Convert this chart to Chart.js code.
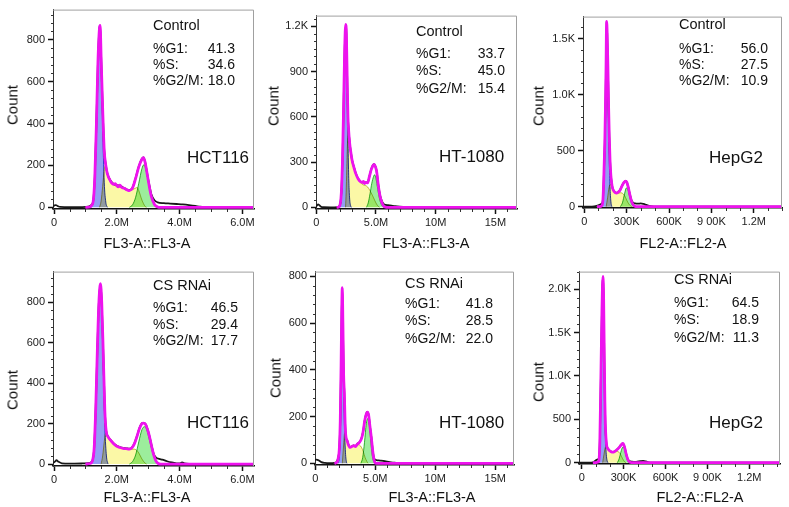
<!DOCTYPE html>
<html>
<head>
<meta charset="utf-8">
<script src="https://cdn.jsdelivr.net/npm/chart.js@4.4.1/dist/chart.umd.min.js"></script>
<style>
  html, body { margin: 0; padding: 0; background: #fff; }
  #page { position: relative; width: 789px; height: 507px; overflow: hidden; background: #fff; }
  #page canvas { position: absolute; }
  .txt { position: absolute; white-space: nowrap; color: #111; line-height: 1; font-weight: normal;
         font-family: "Liberation Sans", Arial, Helvetica, sans-serif; }
</style>
</head>
<body>
<div id="page"></div>
<script>
// ── Cell-cycle histograms (ModFit-style), 2 rows x 3 cell lines ──
// Each curve is a list of [x, count] pairs.
// FL3 panels: x in millions; FL2 panels: x in thousands.

// HCT116, Control
const hctCtrlRaw = [[-0.03,3],[0.02,10],[0.06,11],[0.12,6],[0.2,2],[0.5,1],[0.9,1],[1.1,3],[1.18,10],[1.25,32],[1.3,148],[1.35,398],[1.4,697],[1.45,859],[1.47,868],[1.5,722],[1.55,472],[1.6,272],[1.65,203],[1.7,162],[1.8,128],[1.9,112],[2.0,106],[2.1,104],[2.2,95],[2.3,86],[2.4,82],[2.5,94],[2.6,140],[2.7,195],[2.8,232],[2.85,238],[2.9,218],[2.95,178],[3.0,135],[3.05,96],[3.1,62],[3.2,34],[3.3,24],[3.5,20],[3.7,18],[3.9,16],[4.1,14],[4.3,11],[4.5,7],[4.65,3],[4.8,1],[5.2,0],[6.37,0]];
const hctCtrlFit = [[1.0,0],[1.15,2],[1.2,10],[1.25,30],[1.3,145],[1.35,395],[1.4,695],[1.45,858],[1.47,869],[1.5,720],[1.55,470],[1.6,270],[1.65,200],[1.7,160],[1.8,125],[1.9,110],[1.95,113],[2.0,104],[2.05,98],[2.1,106],[2.15,96],[2.2,93],[2.25,91],[2.3,85],[2.35,82],[2.4,80],[2.45,84],[2.5,92],[2.6,138],[2.7,193],[2.8,230],[2.85,237],[2.9,216],[2.95,175],[3.0,130],[3.05,88],[3.1,52],[3.2,14],[3.3,2],[3.4,0],[6.37,0]];
const hctCtrlG1 = [[1.18,0],[1.25,25],[1.3,138],[1.35,375],[1.4,640],[1.45,750],[1.47,755],[1.5,690],[1.55,380],[1.6,120],[1.65,25],[1.7,0]];
const hctCtrlS = [[1.45,0],[1.5,30],[1.55,100],[1.6,180],[1.63,200],[1.66,190],[1.7,155],[1.8,122],[1.9,108],[2.0,100],[2.2,92],[2.4,84],[2.5,85],[2.6,92],[2.65,95],[2.7,80],[2.8,35],[2.9,5],[2.95,0]];
const hctCtrlG2 = [[2.4,0],[2.5,12],[2.6,48],[2.7,115],[2.8,185],[2.86,203],[2.9,195],[2.95,165],[3.0,125],[3.05,82],[3.1,48],[3.2,12],[3.3,0]];

// HT-1080, Control
const htCtrlRaw = [[-0.05,5],[0.05,12],[0.15,20],[0.25,15],[0.4,4],[0.6,1],[1.2,0],[1.8,2],[2.0,22],[2.1,102],[2.2,332],[2.3,722],[2.38,1048],[2.46,1205],[2.52,1148],[2.6,792],[2.65,602],[2.7,524],[2.8,424],[2.9,362],[3.0,312],[3.15,268],[3.3,228],[3.5,192],[3.7,172],[3.85,166],[4.0,166],[4.15,166],[4.3,164],[4.45,206],[4.6,252],[4.75,280],[4.85,286],[4.95,272],[5.05,242],[5.2,145],[5.35,78],[5.5,40],[5.65,22],[5.8,16],[6.0,14],[6.3,11],[6.6,8],[7.0,5],[7.5,2],[8.0,0],[16.8,0]];
const htCtrlFit = [[1.7,0],[1.9,4],[2.0,20],[2.1,100],[2.2,330],[2.3,720],[2.38,1050],[2.46,1211],[2.52,1150],[2.6,790],[2.65,600],[2.7,520],[2.8,420],[2.9,360],[3.0,310],[3.15,265],[3.3,225],[3.5,190],[3.7,170],[3.85,165],[3.95,172],[4.05,158],[4.15,165],[4.3,162],[4.45,205],[4.6,250],[4.75,278],[4.85,285],[4.95,270],[5.05,240],[5.2,140],[5.35,70],[5.5,30],[5.65,8],[5.8,1],[6.0,0],[16.8,0]];
const htCtrlG1 = [[1.95,0],[2.05,30],[2.15,150],[2.25,450],[2.35,850],[2.45,1150],[2.5,1120],[2.55,950],[2.6,720],[2.65,480],[2.7,250],[2.75,120],[2.8,50],[2.9,5],[2.95,0]];
const htCtrlS = [[2.45,0],[2.5,100],[2.55,250],[2.6,400],[2.68,510],[2.75,460],[2.8,420],[2.9,360],[3.0,310],[3.15,265],[3.3,225],[3.5,190],[3.7,165],[3.9,150],[4.1,145],[4.3,135],[4.5,110],[4.7,80],[4.9,45],[5.1,15],[5.3,0]];
const htCtrlG2 = [[4.2,0],[4.35,30],[4.5,90],[4.65,160],[4.8,205],[4.88,216],[5.0,190],[5.15,120],[5.3,55],[5.45,18],[5.6,3],[5.7,0]];

// HepG2, Control
const hepCtrlRaw = [[-9,0],[40,0],[70,3],[100,12],[115,22],[125,30],[132,65],[138,252],[145,562],[150,902],[154,1248],[158,1650],[162,1548],[167,1252],[172,902],[177,622],[182,424],[188,284],[195,204],[200,168],[212,138],[227,124],[240,132],[252,147],[265,182],[280,216],[293,230],[302,216],[312,172],[322,114],[333,62],[345,36],[360,29],[380,27],[400,30],[420,25],[440,16],[460,8],[480,3],[500,0],[1400,0]];
const hepCtrlFit = [[90,0],[110,2],[125,12],[132,60],[138,250],[145,560],[150,900],[154,1250],[158,1654],[162,1550],[167,1250],[172,900],[177,620],[182,420],[188,280],[195,200],[200,165],[212,135],[227,122],[240,130],[252,145],[265,180],[280,215],[293,229],[302,215],[312,170],[322,110],[333,55],[345,20],[357,6],[370,0],[1400,0]];
const hepCtrlG1 = [[122,0],[130,30],[138,220],[145,520],[150,850],[155,1250],[158,1560],[162,1450],[167,1100],[172,700],[177,400],[182,180],[188,50],[195,0]];
const hepCtrlS = [[155,0],[165,80],[175,170],[185,200],[195,180],[210,140],[225,118],[240,118],[255,125],[270,120],[285,100],[300,60],[315,25],[330,5],[340,0]];
const hepCtrlG2 = [[255,0],[270,35],[285,115],[298,168],[310,150],[322,85],[335,28],[350,0]];

// HCT116, CS RNAi
const hctRnaiRaw = [[-0.03,5],[0.03,12],[0.08,19],[0.14,12],[0.25,4],[0.5,2],[0.9,3],[1.1,5],[1.22,16],[1.28,82],[1.33,282],[1.38,562],[1.43,802],[1.48,890],[1.52,802],[1.57,542],[1.62,262],[1.66,167],[1.72,137],[1.8,120],[1.9,102],[2.0,90],[2.1,84],[2.2,80],[2.3,78],[2.4,76],[2.48,82],[2.56,102],[2.64,137],[2.72,177],[2.8,202],[2.85,204],[2.92,197],[3.0,162],[3.05,132],[3.12,84],[3.18,48],[3.25,32],[3.35,26],[3.45,22],[3.6,14],[3.75,8],[3.9,4],[4.0,3],[4.08,8],[4.15,4],[4.3,1],[4.6,0],[6.37,0]];
const hctRnaiFit = [[1.0,0],[1.15,3],[1.22,15],[1.28,80],[1.33,280],[1.38,560],[1.43,800],[1.48,892],[1.52,800],[1.57,540],[1.62,260],[1.66,165],[1.72,135],[1.8,118],[1.9,100],[2.0,88],[2.1,82],[2.2,78],[2.3,76],[2.4,74],[2.48,80],[2.56,100],[2.64,135],[2.72,175],[2.8,200],[2.85,203],[2.92,195],[3.0,160],[3.05,130],[3.12,80],[3.18,43],[3.25,15],[3.32,3],[3.4,0],[6.37,0]];
const hctRnaiG1 = [[1.18,0],[1.25,30],[1.3,150],[1.35,400],[1.4,680],[1.45,840],[1.48,860],[1.52,780],[1.57,480],[1.62,180],[1.67,40],[1.72,0]];
const hctRnaiS = [[1.5,0],[1.55,40],[1.6,110],[1.65,155],[1.7,140],[1.8,112],[1.9,96],[2.0,86],[2.2,76],[2.4,72],[2.55,74],[2.62,70],[2.7,55],[2.8,25],[2.9,5],[2.95,0]];
const hctRnaiG2 = [[2.4,0],[2.5,12],[2.6,45],[2.7,110],[2.8,170],[2.88,185],[2.95,172],[3.05,112],[3.15,52],[3.25,12],[3.35,0]];

// HT-1080, CS RNAi
const htRnaiRaw = [[-0.03,15],[0.1,16],[0.3,12],[0.5,5],[0.8,2],[1.2,1],[1.6,2],[1.8,8],[1.9,22],[2.0,62],[2.08,182],[2.15,422],[2.2,642],[2.25,748],[2.3,602],[2.36,382],[2.42,302],[2.5,152],[2.58,107],[2.65,100],[2.75,82],[2.9,70],[3.05,73],[3.2,77],[3.35,74],[3.5,83],[3.65,89],[3.8,101],[3.9,116],[4.0,141],[4.11,181],[4.25,213],[4.33,220],[4.45,206],[4.55,162],[4.67,112],[4.78,58],[4.86,30],[4.95,17],[5.1,14],[5.4,12],[5.8,9],[6.2,5],[6.6,3],[7.0,1],[7.5,0],[16.6,0]];
const htRnaiFit = [[1.6,0],[1.8,4],[1.9,20],[2.0,60],[2.08,180],[2.15,420],[2.2,640],[2.25,752],[2.3,600],[2.36,380],[2.42,300],[2.5,150],[2.58,105],[2.65,98],[2.75,80],[2.9,68],[3.05,72],[3.2,76],[3.35,72],[3.5,82],[3.65,88],[3.8,100],[3.9,115],[4.0,140],[4.11,180],[4.25,212],[4.33,219],[4.45,205],[4.55,160],[4.67,110],[4.78,55],[4.86,25],[4.95,6],[5.05,0],[16.6,0]];
const htRnaiG1 = [[1.9,0],[2.0,30],[2.1,150],[2.18,400],[2.25,560],[2.32,420],[2.4,220],[2.5,60],[2.6,5],[2.65,0]];
const htRnaiS = [[2.25,0],[2.35,70],[2.45,130],[2.55,110],[2.7,85],[2.9,68],[3.1,72],[3.3,76],[3.5,80],[3.7,78],[3.85,68],[4.0,50],[4.15,25],[4.3,8],[4.4,0]];
const htRnaiG2 = [[3.8,0],[3.95,25],[4.1,90],[4.25,170],[4.38,192],[4.5,165],[4.62,95],[4.75,32],[4.9,5],[5.0,0]];

// HepG2, CS RNAi
const hepRnaiRaw = [[-19,0],[60,0],[80,5],[100,25],[115,40],[122,45],[130,250],[136,825],[141,1350],[145,1745],[149,2045],[153,2140],[157,1900],[162,1194],[166,702],[169,458],[174,282],[179,198],[188,162],[198,143],[210,130],[222,124],[234,130],[246,143],[258,160],[269,179],[282,207],[294,223],[302,207],[310,162],[317,112],[324,70],[332,36],[341,20],[360,12],[390,10],[420,18],[440,22],[460,15],[480,5],[500,0],[1420,0]];
const hepRnaiFit = [[80,0],[100,2],[115,8],[122,15],[130,250],[136,825],[141,1350],[145,1748],[149,2050],[153,2147],[157,1900],[162,1194],[166,700],[169,455],[174,280],[179,196],[188,160],[198,141],[210,128],[222,122],[234,128],[246,141],[258,158],[269,177],[282,205],[294,222],[302,205],[310,160],[317,110],[324,67],[332,30],[341,11],[352,3],[365,0],[1420,0]];
const hepRnaiG1 = [[115,0],[125,40],[135,600],[141,1150],[145,1600],[149,1950],[153,2080],[157,1800],[162,1100],[166,600],[170,300],[175,120],[180,40],[188,0]];
const hepRnaiS = [[150,0],[160,100],[170,180],[180,190],[195,150],[210,125],[225,120],[240,125],[255,130],[268,120],[280,90],[292,50],[305,15],[318,0]];
const hepRnaiG2 = [[255,0],[268,45],[280,120],[293,178],[300,180],[310,140],[320,70],[330,20],[340,0]];

// Tick values and labels
const fl3TicksA = [0, 2, 4, 6];
const fl3LabelsA = ['0', '2.0M', '4.0M', '6.0M'];
const fl3TicksB = [0, 5, 10, 15];
const fl3LabelsB = ['0', '5.0M', '10M', '15M'];
const fl2Ticks = [0, 300, 600, 900, 1200];
const fl2Labels = ['0', '300K', '600K', '9 00K', '1.2M'];
const countTicks800 = [0, 200, 400, 600, 800];
const countLabels800 = ['0', '200', '400', '600', '800'];
const countTicks1200 = [0, 300, 600, 900, 1200];
const countLabels1200 = ['0', '300', '600', '900', '1.2K'];
const countTicks1500 = [0, 500, 1000, 1500];
const countLabels1500 = ['0', '500', '1.0K', '1.5K'];
const countTicks2000 = [0, 500, 1000, 1500, 2000];
const countLabels2000 = ['0', '500', '1.0K', '1.5K', '2.0K'];

// Panel text
const conditions = ['Control', 'Control', 'Control', 'CS RNAi', 'CS RNAi', 'CS RNAi'];
const cellLines = ['HCT116', 'HT-1080', 'HepG2', 'HCT116', 'HT-1080', 'HepG2'];
const pctG1 = ['41.3', '33.7', '56.0', '46.5', '41.8', '64.5'];
const pctS = ['34.6', '45.0', '27.5', '29.4', '28.5', '18.9'];
const pctG2M = ['18.0', '15.4', '10.9', '17.7', '22.0', '11.3'];
const xTitles = ['FL3-A::FL3-A', 'FL3-A::FL3-A', 'FL2-A::FL2-A', 'FL3-A::FL3-A', 'FL3-A::FL3-A', 'FL2-A::FL2-A'];

const FONT = '"Liberation Sans", Arial, Helvetica, sans-serif';

// Layout: plot area [left, top, right, bottom] in page px, axis ranges, text anchors
const panels = [
  { area: [53, 2, 254, 209], xr: [-0.032, 6.37], yr: [-7.8, 944],
    xT: fl3TicksA, xL: fl3LabelsA, yT: countTicks800, yL: countLabels800, xMinor: 0.5, yMinor: 40,
    curves: [hctCtrlRaw, hctCtrlFit, hctCtrlG1, hctCtrlS, hctCtrlG2],
    count: [12, 105], xTitle: [147, 243], cond: [153, 25], rows: [48, 64, 80], valRight: 235, cell: [187, 157] },
  { area: [316, 8, 517, 209], xr: [-0.025, 16.81], yr: [-10.8, 1270],
    xT: fl3TicksB, xL: fl3LabelsB, yT: countTicks1200, yL: countLabels1200, xMinor: 1, yMinor: 50,
    curves: [htCtrlRaw, htCtrlFit, htCtrlG1, htCtrlS, htCtrlG2],
    count: [273, 106], xTitle: [426, 243], cond: [416, 31], rows: [53, 70, 88], valRight: 505, cell: [439, 156] },
  { area: [583, 9, 782, 208], xr: [-9.2, 1400], yr: [-11.2, 1697],
    xT: fl2Ticks, xL: fl2Labels, yT: countTicks1500, yL: countLabels1500, xMinor: 100, yMinor: 100,
    curves: [hepCtrlRaw, hepCtrlFit, hepCtrlG1, hepCtrlS, hepCtrlG2],
    count: [538, 106], xTitle: [683, 243], cond: [679, 24], rows: [48, 64, 80], valRight: 768, cell: [709, 157] },
  { area: [53, 264, 254, 466], xr: [-0.032, 6.37], yr: [-9.5, 952],
    xT: fl3TicksA, xL: fl3LabelsA, yT: countTicks800, yL: countLabels800, xMinor: 0.5, yMinor: 40,
    curves: [hctRnaiRaw, hctRnaiFit, hctRnaiG1, hctRnaiS, hctRnaiG2],
    count: [12, 390], xTitle: [147, 497], cond: [153, 285], rows: [307, 324, 340], valRight: 238, cell: [187, 422] },
  { area: [315, 264, 514, 465], xr: [-0.025, 16.56], yr: [-7, 820.5],
    xT: fl3TicksB, xL: fl3LabelsB, yT: countTicks800, yL: countLabels800, xMinor: 1, yMinor: 40,
    curves: [htRnaiRaw, htRnaiFit, htRnaiG1, htRnaiS, htRnaiG2],
    count: [275, 378], xTitle: [432, 497], cond: [405, 283], rows: [303, 320, 338], valRight: 493, cell: [439, 422] },
  { area: [579, 264, 780, 464], xr: [-19.3, 1420], yr: [-14.4, 2203],
    xT: fl2Ticks, xL: fl2Labels, yT: countTicks2000, yL: countLabels2000, xMinor: 100, yMinor: 100,
    curves: [hepRnaiRaw, hepRnaiFit, hepRnaiG1, hepRnaiS, hepRnaiG2],
    count: [538, 382], xTitle: [700, 497], cond: [674, 279], rows: [302, 319, 337], valRight: 759, cell: [709, 422] }
];

const Y_W = 50, X_H = 26, PAD_T = 2, PAD_R = 6;

// Fills multiply so that G1 over S reads grey and G2 over S reads lime, like the original
const blendFills = {
  id: 'blendFills',
  beforeDatasetsDraw(chart) { chart.ctx.globalCompositeOperation = 'multiply'; },
  afterDatasetDraw(chart, args) {
    if (chart.data.datasets[args.index].label === 'G2/M') chart.ctx.globalCompositeOperation = 'source-over';
  },
  afterDatasetsDraw(chart) { chart.ctx.globalCompositeOperation = 'source-over'; }
};

// Grey top/right frame plus small minor ticks on both axes
const frameTicks = {
  id: 'frameTicks',
  afterDraw(chart, args, opts) {
    const { ctx, chartArea: a, scales: { x, y } } = chart;
    ctx.save();
    ctx.strokeStyle = '#a0a0a0';
    ctx.lineWidth = 1;
    ctx.beginPath();
    ctx.moveTo(a.left, a.top + 0.5);
    ctx.lineTo(a.right - 0.5, a.top + 0.5);
    ctx.lineTo(a.right - 0.5, a.bottom);
    ctx.stroke();

    ctx.strokeStyle = '#333';
    ctx.beginPath();
    const isMajor = (v, list, step) => list.some(m => Math.abs(m - v) < step * 1e-3);
    for (let i = 1; i * opts.xStep <= x.max; i++) {
      const v = i * opts.xStep;
      if (isMajor(v, opts.xMajor, opts.xStep)) continue;
      const px = Math.round(x.getPixelForValue(v)) + 0.5;
      ctx.moveTo(px, a.bottom);
      ctx.lineTo(px, a.bottom + 3);
    }
    for (let i = 1; i * opts.yStep <= y.max; i++) {
      const v = i * opts.yStep;
      if (isMajor(v, opts.yMajor, opts.yStep)) continue;
      const py = Math.round(y.getPixelForValue(v)) + 0.5;
      ctx.moveTo(a.left, py);
      ctx.lineTo(a.left - 2, py);
    }
    ctx.stroke();
    ctx.restore();
  }
};

const toXY = pts => pts.map(([x, y]) => ({ x, y }));

function addText(text, left, top, size, transform) {
  const d = document.createElement('div');
  d.className = 'txt';
  d.textContent = text;
  d.style.left = left + 'px';
  d.style.top = top + 'px';
  d.style.fontSize = size + 'px';
  d.style.transform = transform;
  document.getElementById('page').appendChild(d);
}

function makePanel(p, idx) {
  const [l, t, r, b] = p.area;
  const canvas = document.createElement('canvas');
  canvas.width = r - l + Y_W + PAD_R;
  canvas.height = b - t + PAD_T + X_H;
  canvas.style.left = (l - Y_W) + 'px';
  canvas.style.top = (t - PAD_T) + 'px';
  canvas.style.width = canvas.width + 'px';
  canvas.style.height = canvas.height + 'px';
  document.getElementById('page').appendChild(canvas);

  const [raw, fit, g1, s, g2] = p.curves;
  const line = { pointRadius: 0, cubicInterpolationMode: 'monotone', tension: 0 };
  const datasets = [
    { ...line, label: 'Fit', data: toXY(fit), borderColor: '#ee12ee', borderWidth: 2.8, fill: false, order: 0 },
    { ...line, label: 'Data', data: toXY(raw), borderColor: '#181818', borderWidth: 1.8, fill: false, order: 1 },
    { ...line, label: 'G2/M', data: toXY(g2), borderColor: '#3cb43c', backgroundColor: '#9ced9c', borderWidth: 1, fill: 'origin', order: 2 },
    { ...line, label: 'G1', data: toXY(g1), borderColor: '#3040c8', backgroundColor: '#939ef4', borderWidth: 1, fill: 'origin', order: 3 },
    { ...line, label: 'S', data: toXY(s), borderColor: '#c4bc50', backgroundColor: '#fbf8a6', borderWidth: 1, fill: 'origin', order: 4 }
  ];

  new Chart(canvas, {
    type: 'line',
    data: { datasets },
    options: {
      responsive: false,
      animation: false,
      events: [],
      layout: { padding: { left: 0, top: PAD_T, right: PAD_R, bottom: 0 } },
      plugins: {
        legend: { display: false },
        tooltip: { enabled: false },
        frameTicks: { xStep: p.xMinor, yStep: p.yMinor, xMajor: p.xT, yMajor: p.yT }
      },
      scales: {
        x: {
          type: 'linear', min: p.xr[0], max: p.xr[1],
          afterBuildTicks: sc => { sc.ticks = p.xT.map(v => ({ value: v })); },
          afterFit: sc => { sc.height = X_H; },
          ticks: { autoSkip: false, maxRotation: 0, padding: 2, color: '#222',
                   font: { size: 11, family: FONT },
                   callback: v => p.xL[p.xT.indexOf(v)] },
          grid: { drawOnChartArea: false, tickLength: 5, tickColor: '#111', tickWidth: 1.5 },
          border: { color: '#111', width: 1.5 }
        },
        y: {
          type: 'linear', min: p.yr[0], max: p.yr[1],
          afterBuildTicks: sc => { sc.ticks = p.yT.map(v => ({ value: v })); },
          afterFit: sc => { sc.width = Y_W; },
          ticks: { autoSkip: false, padding: 3, color: '#222',
                   font: { size: 11, family: FONT },
                   callback: v => p.yL[p.yT.indexOf(v)] },
          grid: { drawOnChartArea: false, tickLength: 5, tickColor: '#111', tickWidth: 1.5 },
          border: { color: '#333', width: 1 }
        }
      }
    },
    plugins: [blendFills, frameTicks]
  });

  // Axis titles and the gate statistics box
  addText('Count', p.count[0], p.count[1], 15, 'translate(-50%,-50%) rotate(-90deg)');
  addText(xTitles[idx], p.xTitle[0], p.xTitle[1], 14.5, 'translate(-50%,-50%)');
  addText(conditions[idx], p.cond[0], p.cond[1], 14.5, 'translateY(-50%)');
  const rowLabels = ['%G1:', '%S:', '%G2/M:'];
  const rowValues = [pctG1[idx], pctS[idx], pctG2M[idx]];
  rowLabels.forEach((lab, i) => {
    addText(lab, p.cond[0], p.rows[i], 14, 'translateY(-50%)');
    addText(rowValues[i], p.valRight, p.rows[i], 14, 'translate(-100%,-50%)');
  });
  addText(cellLines[idx], p.cell[0], p.cell[1], 17, 'translateY(-50%)');
}

panels.forEach(makePanel);
</script>
</body>
</html>
